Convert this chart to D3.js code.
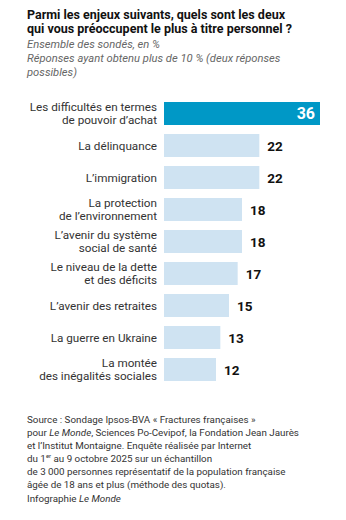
<!DOCTYPE html>
<html><head><meta charset="utf-8">
<script src="https://cdn.jsdelivr.net/npm/d3@7"></script>
<style>
html,body{margin:0;padding:0;background:#fff;}
svg{display:block;font-family:Roboto, "Noto Sans", sans-serif;}
</style></head>
<body>
<script>
const categories = [
  ["Les difficultés en termes", "de pouvoir d’achat"],
  ["La délinquance"],
  ["L’immigration"],
  ["La protection", "de l’environnement"],
  ["L’avenir du système", "social de santé"],
  ["Le niveau de la dette", "et des déficits"],
  ["L’avenir des retraites"],
  ["La guerre en Ukraine"],
  ["La montée", "des inégalités sociales"]
];
const values = [36, 22, 22, 18, 18, 17, 15, 13, 12];
const titleLines = ["Parmi les enjeux suivants, quels sont les deux", "qui vous préoccupent le plus à titre personnel ?"];
const subtitleLines = ["Ensemble des sondés, en %", "Réponses ayant obtenu plus de 10 % (deux réponses", "possibles)"];

const W = 346, H = 520;
const svg = d3.select("body").append("svg").attr("width", W).attr("height", H);

const data = values.map((v, i) => ({ v, label: categories[i], i }));

const x = d3.scaleLinear().domain([0, 36]).range([164, 320]);
const y = d3.scaleBand().domain(d3.range(values.length)).range([102, 381]).paddingInner(9/32).paddingOuter(0);

// Title
svg.append("g").selectAll("text").data(titleLines).join("text")
  .attr("x", 27).attr("y", (d, i) => 18.5 + i * 14.5)
  .attr("font-size", 12.5).attr("font-weight", 700).attr("fill", "#111")
  .text(d => d);

svg.append("g").selectAll("text").data(subtitleLines).join("text")
  .attr("x", 27).attr("y", (d, i) => 48 + i * 14)
  .attr("font-size", 11.2).attr("font-style", "italic").attr("fill", "#666")
  .text(d => d);

// Bars
const g = svg.append("g");
g.selectAll("rect").data(data).join("rect")
  .attr("x", x(0)).attr("y", d => y(d.i))
  .attr("width", d => x(d.v) - x(0)).attr("height", y.bandwidth())
  .attr("fill", d => d.i === 0 ? "#0098c6" : "#cfe3f2");

// Category labels
const lab = g.selectAll("text.lab").data(data).join("text")
  .attr("class", "lab")
  .attr("x", 157).attr("text-anchor", "end")
  .attr("font-size", 11.7).attr("fill", "#333");
lab.each(function(d) {
  const t = d3.select(this);
  const cy = y(d.i) + y.bandwidth() / 2;
  if (d.label.length === 1) {
    t.append("tspan").attr("x", 157).attr("y", cy + 4.1).text(d.label[0]);
  } else {
    t.append("tspan").attr("x", 157).attr("y", cy - 2.4).text(d.label[0]);
    t.append("tspan").attr("x", 157).attr("y", cy + 10.2).text(d.label[1]);
  }
});

// Value labels
g.selectAll("text.val").data(data).join("text")
  .attr("class", "val")
  .attr("x", d => d.i === 0 ? x(d.v) - 5 : x(d.v) + 8)
  .attr("y", d => y(d.i) + y.bandwidth() / 2 + (d.i === 0 ? 5.8 : 5))
  .attr("text-anchor", d => d.i === 0 ? "end" : "start")
  .attr("font-size", d => d.i === 0 ? 16 : 13.5)
  .attr("font-weight", 700)
  .attr("fill", d => d.i === 0 ? "#fff" : "#111")
  .text(d => d.v);

// Footer
const foot = svg.append("g").attr("font-size", 9.8).attr("fill", "#333");
const fl = [
  [["Source : Sondage Ipsos-BVA « Fractures françaises »", ""]],
  [["pour ", ""], ["Le Monde", "i"], [", Sciences Po-Cevipof, la Fondation Jean Jaurès", ""]],
  [["et l’Institut Montaigne. Enquête réalisée par Internet", ""]],
  [["du 1", ""], ["er", "sup"], [" au 9 octobre 2025 sur un échantillon", "down"]],
  [["de 3 000 personnes représentatif de la population française", ""]],
  [["âgée de 18 ans et plus (méthode des quotas).", ""]]
];
const fy = [422.5, 435.5, 448.5, 461.5, 474.5, 487.5];
fl.forEach((parts, li) => {
  const t = foot.append("text").attr("x", 27).attr("y", fy[li]);
  parts.forEach(([s, st]) => {
    const sp = t.append("tspan").text(s);
    if (st === "i") sp.attr("font-style", "italic");
    if (st === "sup") sp.attr("font-size", 6).attr("dy", -3.5);
    if (st === "down") sp.attr("dy", 3.5);
  });
});
const inf = foot.append("text").attr("x", 27).attr("y", 502);
inf.append("tspan").text("Infographie ");
inf.append("tspan").attr("font-style", "italic").text("Le Monde");
</script>
</body></html>
